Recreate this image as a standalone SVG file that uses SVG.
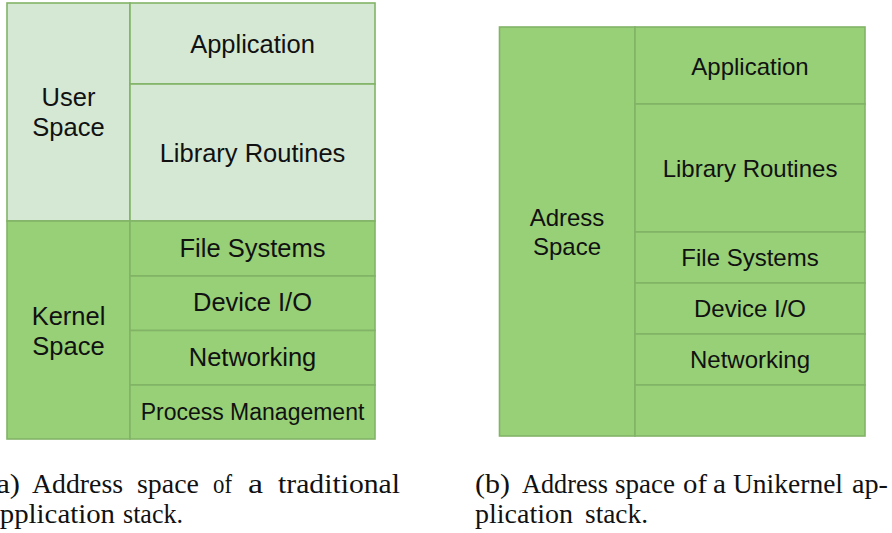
<svg xmlns="http://www.w3.org/2000/svg" width="892" height="533" viewBox="0 0 892 533">
<style>
.lt{fill:#d5e8d4;stroke:#82b366;stroke-width:1.6}
.dk{fill:#97d077;stroke:#82b366;stroke-width:1.6}
.t{font-family:"Liberation Sans",Arial,sans-serif;font-size:25.5px;fill:#111;text-anchor:middle}
.t2{font-family:"Liberation Sans",Arial,sans-serif;font-size:24px;fill:#111;text-anchor:middle}
.cap{font-family:"Liberation Serif","Times New Roman",serif;font-size:27px;fill:#111}
</style>
<rect width="892" height="533" fill="#fff"/>
<g id="left">
<g id="user-space"><rect class="lt" x="7" y="3" width="123" height="218"/><text class="t" x="68.5" y="106">User</text><text class="t" x="68.5" y="136">Space</text></g>
<g id="application-a"><rect class="lt" x="130" y="3" width="245" height="81"/><text class="t" x="252.5" y="53">Application</text></g>
<g id="library-a"><rect class="lt" x="130" y="84" width="245" height="137"/><text class="t" x="252.5" y="162">Library Routines</text></g>
<g id="kernel-space"><rect class="dk" x="7" y="221" width="123" height="218"/><text class="t" x="68.5" y="325">Kernel</text><text class="t" x="68.5" y="355">Space</text></g>
<g id="fs-a"><rect class="dk" x="130" y="221" width="245" height="55"/><text class="t" x="252.5" y="257">File Systems</text></g>
<g id="dev-a"><rect class="dk" x="130" y="276" width="245" height="54.5"/><text class="t" x="252.5" y="311">Device I/O</text></g>
<g id="net-a"><rect class="dk" x="130" y="330.5" width="245" height="54.5"/><text class="t" x="252.5" y="366">Networking</text></g>
<g id="proc-a"><rect class="dk" x="130" y="385" width="245" height="54"/><text class="t" x="252.5" y="419.5" style="font-size:23px">Process Management</text></g>
</g>
<g id="right">
<g id="address-space"><rect class="dk" x="499.5" y="27" width="135.5" height="409"/><text class="t2" x="567" y="225.5">Adress</text><text class="t2" x="567" y="254.5">Space</text></g>
<g id="application-b"><rect class="dk" x="635" y="27" width="230" height="77"/><text class="t2" x="750" y="74.5">Application</text></g>
<g id="library-b"><rect class="dk" x="635" y="104" width="230" height="128"/><text class="t2" x="750" y="176.5">Library Routines</text></g>
<g id="fs-b"><rect class="dk" x="635" y="232" width="230" height="51"/><text class="t2" x="750" y="265.5">File Systems</text></g>
<g id="dev-b"><rect class="dk" x="635" y="283" width="230" height="51"/><text class="t2" x="750" y="316.5">Device I/O</text></g>
<g id="net-b"><rect class="dk" x="635" y="334" width="230" height="51"/><text class="t2" x="750" y="367.5">Networking</text></g>
<g id="empty-b"><rect class="dk" x="635" y="385" width="230" height="51"/></g>
</g>
<g id="connectors"/>
<g id="captions">
<text class="cap" y="493"><tspan x="-14" textLength="34" lengthAdjust="spacingAndGlyphs">(a)</tspan><tspan x="32" textLength="91" lengthAdjust="spacingAndGlyphs">Address</tspan><tspan x="137" textLength="62" lengthAdjust="spacingAndGlyphs">space</tspan><tspan x="213" textLength="19" lengthAdjust="spacingAndGlyphs">of</tspan><tspan x="248" textLength="15" lengthAdjust="spacingAndGlyphs">a</tspan><tspan x="278" textLength="122" lengthAdjust="spacingAndGlyphs">traditional</tspan></text>
<text class="cap" y="523"><tspan x="-13" textLength="128" lengthAdjust="spacingAndGlyphs">application</tspan><tspan x="123" textLength="60" lengthAdjust="spacingAndGlyphs">stack.</tspan></text>
<text class="cap" y="493"><tspan x="475" textLength="35" lengthAdjust="spacingAndGlyphs">(b)</tspan><tspan x="522" textLength="86" lengthAdjust="spacingAndGlyphs">Address</tspan><tspan x="615" textLength="60" lengthAdjust="spacingAndGlyphs">space</tspan><tspan x="683" textLength="24" lengthAdjust="spacingAndGlyphs">of</tspan><tspan x="713" textLength="13" lengthAdjust="spacingAndGlyphs">a</tspan><tspan x="733" textLength="110" lengthAdjust="spacingAndGlyphs">Unikernel</tspan><tspan x="852" textLength="36" lengthAdjust="spacingAndGlyphs">ap-</tspan></text>
<text class="cap" y="523"><tspan x="475" textLength="98" lengthAdjust="spacingAndGlyphs">plication</tspan><tspan x="585" textLength="63" lengthAdjust="spacingAndGlyphs">stack.</tspan></text>
</g>
</svg>
